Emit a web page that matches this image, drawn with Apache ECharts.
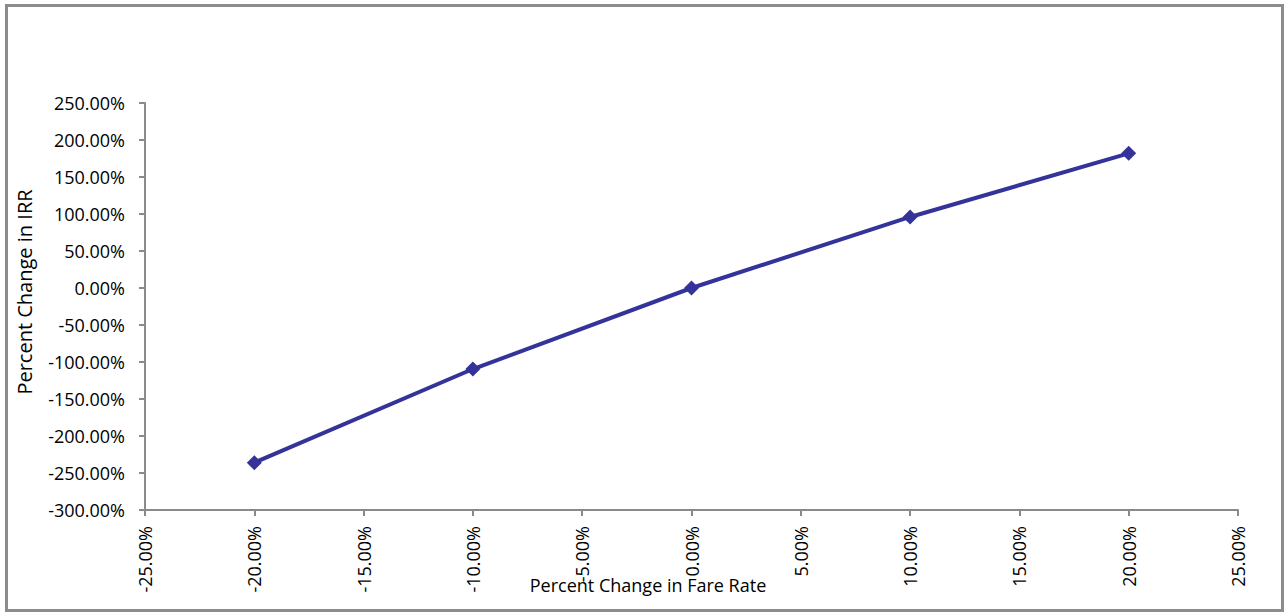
<!DOCTYPE html>
<html>
<head>
<meta charset="utf-8">
<title>Percent Change in IRR vs Fare Rate</title>
<script src="https://cdn.jsdelivr.net/npm/echarts@6/dist/echarts.min.js"></script>
<style>
  html, body { margin: 0; padding: 0; background: #ffffff; }
  #chart { width: 1288px; height: 612px; }
</style>
</head>
<body>
<div id="chart"></div>
<script>
// Sensitivity of IRR to changes in fare rate (both in percent)
const fareChange = [-20, -10, 0, 10, 20];
const irrChange = [-236, -109.5, 0, 96, 182];

const xTicks = { min: -25, max: 25, step: 5 };
const yTicks = { min: -300, max: 250, step: 50 };

const xAxisTitle = 'Percent Change in Fare Rate';
const yAxisTitle = 'Percent Change in IRR';

const FONT = '"Open Sans", "Noto Sans", sans-serif';
const AXIS_GREY = '#8a8a8a';
const LINE_BLUE = '#333399';

const pct = v => v.toFixed(2) + '%';

const chart = echarts.init(document.getElementById('chart'), null, { renderer: 'svg' });

chart.setOption({
  backgroundColor: '#ffffff',
  animation: false,
  grid: { left: 145, top: 103, right: 50, bottom: 102 },
  xAxis: {
    type: 'value',
    min: xTicks.min,
    max: xTicks.max,
    interval: xTicks.step,
    axisLine: { show: true, onZero: false, lineStyle: { color: AXIS_GREY, width: 2 } },
    axisTick: { show: true, length: 6, lineStyle: { color: AXIS_GREY, width: 2 } },
    splitLine: { show: false },
    axisLabel: {
      rotate: 90,
      margin: 16,
      color: '#000000',
      fontFamily: FONT,
      fontSize: 18,
      formatter: pct
    }
  },
  yAxis: {
    type: 'value',
    min: yTicks.min,
    max: yTicks.max,
    interval: yTicks.step,
    axisLine: { show: true, onZero: false, lineStyle: { color: AXIS_GREY, width: 2 } },
    axisTick: { show: true, length: 6, lineStyle: { color: AXIS_GREY, width: 2 } },
    splitLine: { show: false },
    axisLabel: {
      margin: 20,
      color: '#000000',
      fontFamily: FONT,
      fontSize: 18,
      formatter: pct
    }
  },
  series: [{
    type: 'line',
    data: fareChange.map((x, i) => [x, irrChange[i]]),
    symbol: 'diamond',
    symbolSize: 15,
    lineStyle: { color: LINE_BLUE, width: 4 },
    itemStyle: { color: LINE_BLUE },
    z: 3
  }],
  graphic: [
    {
      type: 'rect',
      shape: { x: 6.5, y: 5.5, width: 1276, height: 605 },
      style: { fill: 'none', stroke: '#8c8c8c', lineWidth: 3 },
      silent: true
    },
    {
      type: 'text',
      x: 648,
      y: 585,
      style: {
        text: xAxisTitle,
        fontFamily: FONT,
        fontSize: 18,
        fill: '#000000',
        align: 'center',
        verticalAlign: 'middle'
      }
    },
    {
      type: 'text',
      x: 24,
      y: 292,
      rotation: Math.PI / 2,
      style: {
        text: yAxisTitle,
        fontFamily: FONT,
        fontSize: 20,
        fill: '#000000',
        align: 'center',
        verticalAlign: 'middle'
      }
    }
  ]
});
</script>
</body>
</html>
